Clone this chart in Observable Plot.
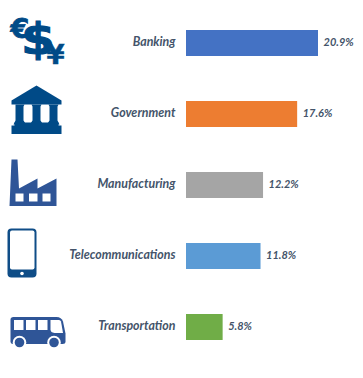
<!DOCTYPE html>
<html><head><meta charset="utf-8">
<script src="https://cdn.jsdelivr.net/npm/d3@7"></script>
<script src="https://cdn.jsdelivr.net/npm/@observablehq/plot@0.6"></script>
<style>html,body{margin:0;padding:0;background:#fff}svg{display:block}</style>
</head><body><div id="chart"></div>
<script>
const categories = ["Banking","Government","Manufacturing","Telecommunications","Transportation"];
const shares = [20.9,17.6,12.2,11.8,5.8];
const barColors = ["#4472c4","#ed7d31","#a5a5a5","#5b9bd5","#70ad47"];
const iconBodies = [
 `<g fill="#004a87" stroke="#004a87" font-family="DejaVu Sans" font-weight="bold" text-anchor="middle"><text x="19.500" y="37" font-size="27" stroke-width="0.800">€</text><text transform="translate(37.500 53) scale(1.15 1)" font-size="42" stroke-width="1.200">$</text><text x="55" y="63" font-size="26" stroke-width="0.500">¥</text></g>`,
 `<g fill="#004a87"><path d="M36 85L61 100V104H11V100Z"/><path d="M15 104H24L23 106V120L25 123H30L32 120V106L31 104H41L40 106V120L42 123H47L49 120V106L48 104H58L57 106V120L59 124H13L15 120V106Z" fill-rule="evenodd"/><rect x="11" y="125" width="50" height="8.500"/><rect x="14" y="122" width="44" height="4"/></g>`,
 `<path fill="#2f5597" fill-rule="evenodd" d="M11 159H17L18.500 188L37 178V188L56 178V205.500H9ZM15 193V201H23V193ZM28.500 193V201H37V193ZM42 193V201H50V193Z"/>`,
 `<g><rect x="7" y="227" width="29" height="49" rx="4" fill="#0f4d87"/><rect x="9.500" y="229" width="24.500" height="39" rx="2" fill="#fff"/><circle cx="21.500" cy="272" r="1.800" fill="#fff"/></g>`,
 `<g><path fill="#2f5597" d="M13 315.500H56Q61 315.500 62.500 320L65 332V340Q65 342.500 62 342.500H13Q10 342.500 10 340V318Q10 315.500 13 315.500Z"/><g fill="#fff"><rect x="13.500" y="318.500" width="9.500" height="10"/><rect x="25.500" y="318.500" width="9.500" height="10"/><rect x="37.500" y="318.500" width="9.500" height="10"/><path d="M50 318.500H58.500Q60 318.500 60.500 320L62.500 331.500H54Q50 331 50 328Z"/><circle cx="19" cy="341" r="6.800"/><circle cx="53.500" cy="341" r="6.800"/></g><circle cx="19" cy="341" r="4.800" fill="#2f5597"/><circle cx="53.500" cy="341" r="4.800" fill="#2f5597"/></g>`
];
const iconTops = [8,79,150,220,291];
const iconSrc = iconBodies.map((b,i)=>"data:image/svg+xml;charset=utf-8,"+encodeURIComponent(
  `<svg xmlns="http://www.w3.org/2000/svg" width="70" height="70" viewBox="1 ${iconTops[i]} 70 70">${b}</svg>`));
const rows = categories.map((c,i)=>({category:c,share:shares[i],icon:iconSrc[i]}));
const font = "Lato, Carlito, sans-serif";
const plot = Plot.plot({
  width:363,height:378,
  marginLeft:186,marginRight:45,marginTop:7.5,marginBottom:15.5,
  style:{background:"#fff",fontFamily:font},
  x:{domain:[0,20.9],axis:null},
  y:{domain:categories,paddingInner:0.634,paddingOuter:0.317,round:false,axis:null},
  color:{domain:categories,range:barColors},
  marks:[
    Plot.barX(rows,{x:"share",y:"category",fill:"category"}),
    Plot.image(rows,{x:()=>0,y:"category",src:"icon",width:70,height:70,dx:-150}),
    Plot.text(rows,{x:()=>0,y:"category",text:"category",textAnchor:"end",dx:-11,dy:-1,fontSize:12.4,fontWeight:700,fontStyle:"italic",fill:"#44546a",fontFamily:font}),
    Plot.text(rows,{x:"share",y:"category",text:d=>d.share.toFixed(1)+"%",textAnchor:"start",dx:5,dy:-1,fontSize:11,fontWeight:700,fontStyle:"italic",fill:"#44546a",fontFamily:font})
  ]
});
document.getElementById("chart").append(plot);
</script></body></html>
